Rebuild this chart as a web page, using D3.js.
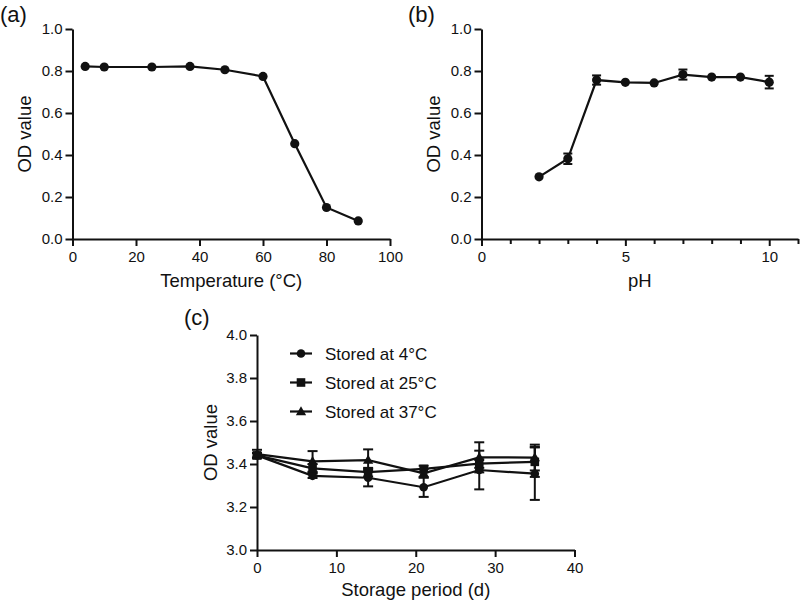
<!DOCTYPE html>
<html><head><meta charset="utf-8">
<script src="https://cdn.jsdelivr.net/npm/d3@7"></script>
<style>
body{margin:0;background:#fff;}
text{font-family:"Liberation Sans",Arial,sans-serif;fill:#111;}
</style></head>
<body><svg id="c" width="800" height="602"></svg>
<script>
// Panel (a): temperature
const tempX = [4, 10, 25, 37, 48, 60, 70, 80, 90];
const tempOD = [0.822, 0.819, 0.819, 0.822, 0.806, 0.774, 0.454, 0.150, 0.086];
// Panel (b): pH
const phX = [2, 3, 4, 5, 6, 7, 8, 9, 10];
const phOD = [0.296, 0.382, 0.757, 0.746, 0.743, 0.783, 0.771, 0.771, 0.747];
const phErr = [0, 0.025, 0.022, 0, 0, 0.024, 0, 0, 0.03];
// Panel (c): storage
const days = [0, 7, 14, 21, 28, 35];
const seriesNames = ["Stored at 4°C", "Stored at 25°C", "Stored at 37°C"];
const od4 = [3.440, 3.345, 3.336, 3.292, 3.372, 3.355];
const err4 = [0.010, 0.010, 0.040, 0.045, 0.090, 0.122];
const od25 = [3.440, 3.380, 3.362, 3.377, 3.402, 3.410];
const err25 = [0.012, 0.020, 0.020, 0.015, 0.020, 0.070];
const od37 = [3.446, 3.412, 3.418, 3.357, 3.431, 3.430];
const err37 = [0.020, 0.048, 0.050, 0.020, 0.070, 0.060];
const shapes = ["circle", "square", "triangle"];

const svg = d3.select("#c");
const F = '"Liberation Sans",Arial,sans-serif';

function styleAxis(g){
  g.selectAll("path.domain").attr("stroke","#111").attr("stroke-width",2);
  g.selectAll(".tick line").attr("stroke","#111").attr("stroke-width",2);
  g.selectAll(".tick text").style("font-size","15px").attr("fill","#111");
}

function drawPanel(o){
  const g = svg.append("g");
  const x = d3.scaleLinear().domain(o.xd).range([o.x0, o.x1]);
  const y = d3.scaleLinear().domain(o.yd).range([o.y0, o.y1]);
  // minor ticks
  if (o.minor){
    const gm = g.append("g").attr("transform",`translate(0,${o.y0})`)
      .call(d3.axisBottom(x).tickValues(o.minor).tickSize(5).tickFormat(""));
    gm.select("path.domain").remove();
    gm.selectAll(".tick line").attr("stroke","#111").attr("stroke-width",2);
  }
  const gx = g.append("g").attr("transform",`translate(0,${o.y0})`)
    .call(d3.axisBottom(x).tickValues(o.xt).tickSize(7).tickSizeOuter(0).tickPadding(5).tickFormat(d3.format("d")));
  styleAxis(gx);
  const gy = g.append("g").attr("transform",`translate(${o.x0},0)`)
    .call(d3.axisLeft(y).tickValues(o.yt).tickSize(7).tickSizeOuter(0).tickPadding(3).tickFormat(d3.format(".1f")));
  styleAxis(gy);
  g.append("text").attr("x",(o.x0+o.x1)/2).attr("y",o.xtY).attr("text-anchor","middle")
    .style("font-size","18.5px").text(o.xtitle);
  g.append("text").attr("transform",`translate(${o.ytX},${(o.y0+o.y1)/2}) rotate(-90)`)
    .attr("text-anchor","middle").style("font-size","18.5px").text("OD value");
  g.append("text").attr("x",o.lx).attr("y",o.ly).style("font-size","22px").text(o.label);
  return {g,x,y};
}

function marker(g, shape, cx, cy, s){
  if (shape==="circle") g.append("circle").attr("cx",cx).attr("cy",cy).attr("r",s).attr("fill","#111");
  else if (shape==="square") g.append("rect").attr("x",cx-s).attr("y",cy-s).attr("width",2*s).attr("height",2*s).attr("fill","#111");
  else g.append("path").attr("d",`M${cx},${cy-s*1.25}L${cx+s*1.2},${cy+s*0.85}L${cx-s*1.2},${cy+s*0.85}Z`).attr("fill","#111");
}

function errBars(g, x, y, xs, ys, es, cap){
  xs.forEach((xv,i)=>{
    if(!es[i]) return;
    const cx=x(xv), t=y(ys[i]+es[i]), b=y(ys[i]-es[i]);
    g.append("line").attr("x1",cx).attr("x2",cx).attr("y1",t).attr("y2",b).attr("stroke","#111").attr("stroke-width",2);
    [t,b].forEach(yy=>g.append("line").attr("x1",cx-cap).attr("x2",cx+cap).attr("y1",yy).attr("y2",yy).attr("stroke","#111").attr("stroke-width",2));
  });
}

// (a)
const A = drawPanel({xd:[0,100], yd:[0,1], x0:72.5, x1:390, y0:239, y1:29,
  xt:[0,20,40,60,80,100], yt:[0,0.2,0.4,0.6,0.8,1.0], xtitle:"Temperature (°C)",
  xtY:287, ytX:31, label:"(a)", lx:0, ly:22});
{
  const line = d3.line().x((d,i)=>A.x(tempX[i])).y(d=>A.y(d));
  A.g.append("path").datum(tempOD).attr("d",line).attr("fill","none").attr("stroke","#111").attr("stroke-width",2.2);
  tempOD.forEach((v,i)=>marker(A.g,"circle",A.x(tempX[i]),A.y(v),4.6));
}
// (b)
const B = drawPanel({xd:[0,11], yd:[0,1], x0:481.5, x1:798, y0:239, y1:29,
  xt:[0,5,10], yt:[0,0.2,0.4,0.6,0.8,1.0], minor:[1,2,3,4,6,7,8,9,11], xtitle:"pH",
  xtY:287, ytX:440, label:"(b)", lx:408, ly:22});
{
  const line = d3.line().x((d,i)=>B.x(phX[i])).y(d=>B.y(d));
  B.g.append("path").datum(phOD).attr("d",line).attr("fill","none").attr("stroke","#111").attr("stroke-width",2.2);
  errBars(B.g,B.x,B.y,phX,phOD,phErr,4.5);
  phOD.forEach((v,i)=>marker(B.g,"circle",B.x(phX[i]),B.y(v),4.6));
}
// (c)
const C = drawPanel({xd:[0,40], yd:[3,4], x0:257, x1:574.5, y0:550, y1:335,
  xt:[0,10,20,30,40], yt:[3.0,3.2,3.4,3.6,3.8,4.0], xtitle:"Storage period (d)",
  xtY:596, ytX:217, label:"(c)", lx:184, ly:325});
{
  const vals=[od4,od25,od37], errs=[err4,err25,err37];
  vals.forEach((vs,k)=>{
    const line = d3.line().x((d,i)=>C.x(days[i])).y(d=>C.y(d));
    C.g.append("path").datum(vs).attr("d",line).attr("fill","none").attr("stroke","#111").attr("stroke-width",2.2);
    errBars(C.g,C.x,C.y,days,vs,errs[k],5);
  });
  vals.forEach((vs,k)=>vs.forEach((v,i)=>marker(C.g,shapes[k],C.x(days[i]),C.y(v),k===0?4.3:4.3)));
  // legend
  const legY=[353.5,382.5,411.5];
  seriesNames.forEach((n,k)=>{
    C.g.append("line").attr("x1",290).attr("x2",312).attr("y1",legY[k]).attr("y2",legY[k]).attr("stroke","#111").attr("stroke-width",2.2);
    marker(C.g,shapes[k],301,legY[k],4.3);
    C.g.append("text").attr("x",325).attr("y",legY[k]+6).style("font-size","17px").text(n);
  });
}
</script></body></html>
